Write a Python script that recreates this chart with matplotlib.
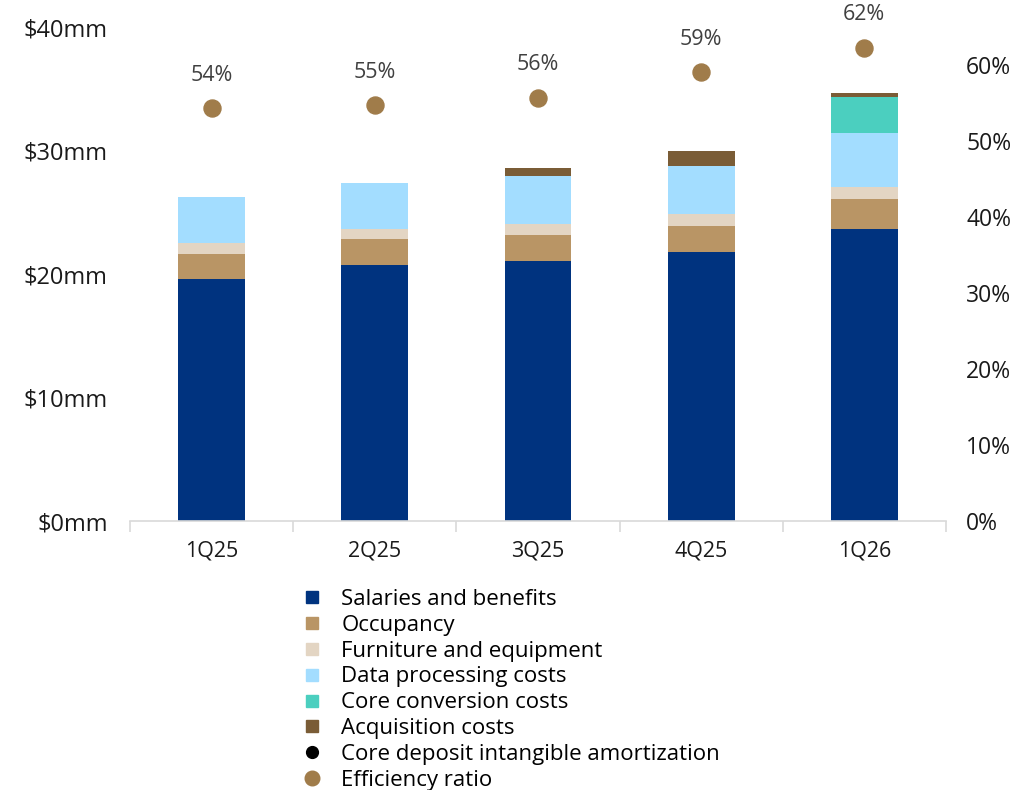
import numpy as np
import matplotlib
matplotlib.use("Agg")
import matplotlib.pyplot as plt
from matplotlib.lines import Line2D

plt.rcParams['font.family'] = ['Open Sans', 'DejaVu Sans']

quarters = ['1Q25', '2Q25', '3Q25', '4Q25', '1Q26']

# expense components, $mm
salaries = [19.57, 20.70, 21.08, 21.81, 23.67]
occupancy = [2.07, 2.16, 2.10, 2.10, 2.43]
furniture = [0.85, 0.81, 0.87, 0.95, 0.94]
data_processing = [3.77, 3.67, 3.91, 3.91, 4.40]
core_conversion = [0.0, 0.0, 0.0, 0.0, 2.92]
acquisition = [0.0, 0.05, 0.62, 1.21, 0.32]
cdi_amort = [0.0, 0.0, 0.0, 0.0, 0.0]

# efficiency ratio, %
efficiency = [54.3, 54.7, 55.7, 59.1, 62.3]

series = [
    ('Salaries and benefits', salaries, '#00337F'),
    ('Occupancy', occupancy, '#B99565'),
    ('Furniture and equipment', furniture, '#E3D5C3'),
    ('Data processing costs', data_processing, '#A3DDFF'),
    ('Core conversion costs', core_conversion, '#4BCFBF'),
    ('Acquisition costs', acquisition, '#7A5C36'),
]
eff_color = '#A07C4A'

fig = plt.figure(figsize=(10.26, 7.9), dpi=100)
ax = fig.add_axes([0.1267, 0.3405, 0.7953, 0.6253])
ax2 = ax.twinx()

x = np.arange(len(quarters))
bottom = np.zeros(len(quarters))
for name, vals, col in series:
    ax.bar(x, vals, 0.41, bottom=bottom, color=col, edgecolor='none', zorder=2)
    bottom += np.array(vals)
ax.bar(x, cdi_amort, 0.41, bottom=bottom, color='black', zorder=2)

ax.set_xlim(-0.5, len(quarters) - 0.5)
ax.set_ylim(0, 40)
ax.set_yticks([0, 10, 20, 30, 40])
ax.set_yticklabels([f'${v}mm' for v in [0, 10, 20, 30, 40]])
ax.set_xticks(x)
ax.set_xticklabels(quarters)
ax.set_xticks(np.arange(-0.5, len(quarters)), minor=True)
ax.tick_params(axis='x', which='major', length=0, pad=14, labelsize=15.5, labelcolor='#1a1a1a')
ax.tick_params(axis='x', which='minor', length=8, color='#D9D9D9', width=1.2)
ax.tick_params(axis='y', length=0, pad=16, labelsize=17, labelcolor='#1a1a1a')

for s in ['top', 'right', 'left']:
    ax.spines[s].set_visible(False)
ax.spines['bottom'].set_color('#D9D9D9')
ax.spines['bottom'].set_linewidth(1.2)
for s in ax2.spines.values():
    s.set_visible(False)

ax2.set_ylim(0, 65)
ax2.set_yticks(range(0, 61, 10))
ax2.set_yticklabels([f'{v}%' for v in range(0, 61, 10)])
ax2.tick_params(axis='y', length=0, pad=14.5, labelsize=16.5, labelcolor='#1a1a1a')
ax2.scatter(x, efficiency, s=150, color=eff_color, zorder=3)
for xi, v in zip(x, efficiency):
    ax2.annotate(f'{v:.0f}%', (xi, v), xytext=(0, 16), textcoords='offset points',
                 ha='center', va='bottom', fontsize=15.5, color='#404040')

handles = [Line2D([], [], marker='s', linestyle='none', color=col, markersize=8.5)
           for _, _, col in series]
handles.append(Line2D([], [], marker='o', linestyle='none', color='black', markersize=8.5))
handles.append(Line2D([], [], marker='o', linestyle='none', color=eff_color, markersize=10.5))
labels = [n for n, _, _ in series] + ['Core deposit intangible amortization', 'Efficiency ratio']
fig.legend(handles, labels, loc='upper left', bbox_to_anchor=(0.285, 0.266),
           frameon=False, handletextpad=0.8, labelspacing=0.22,
           borderaxespad=0, handlelength=1.0, prop={'size': 16})

fig.savefig('out.png', dpi=100)
